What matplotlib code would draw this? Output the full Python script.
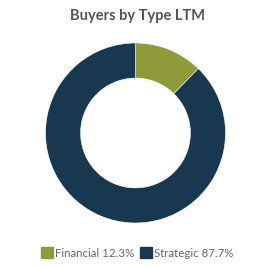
import matplotlib
matplotlib.use("Agg")
from matplotlib import pyplot as plt
from matplotlib.patches import Patch

# data
labels = ['Financial', 'Strategic']
shares = [12.3, 87.7]
colors = ['#8f9a3b', '#17384f']

plt.rcParams['font.family'] = ['Lato', 'DejaVu Sans']

fig = plt.figure(figsize=(2.75, 2.68), dpi=100)
ax = fig.add_axes([135.5/275 - 90/275, 1 - (133 + 90)/268, 180/275, 180/268])

ax.pie(shares, colors=colors, startangle=90, counterclock=False,
       wedgeprops=dict(width=0.39, edgecolor='white', linewidth=0.4))
ax.set_xlim(-1.0, 1.0)
ax.set_ylim(-1.0, 1.0)
ax.set_aspect('equal')
ax.axis('off')

fig.text(0.5, 1 - 16/268, 'Buyers by Type LTM', ha='center', va='center',
         fontsize=10.5, fontweight='bold', color='#555555')

handles = [Patch(facecolor=c, edgecolor=c) for c in colors]
leg_labels = ['%s %.1f%%' % (l, s) for l, s in zip(labels, shares)]
fig.legend(handles, leg_labels, loc='center', bbox_to_anchor=(0.5, 1 - 253/268),
           ncol=2, frameon=False, fontsize=8.3, labelcolor='#666666',
           handlelength=1.0, handleheight=1.0, handletextpad=0.2,
           columnspacing=0.5)

fig.savefig('out.png', dpi=100, facecolor='white')
